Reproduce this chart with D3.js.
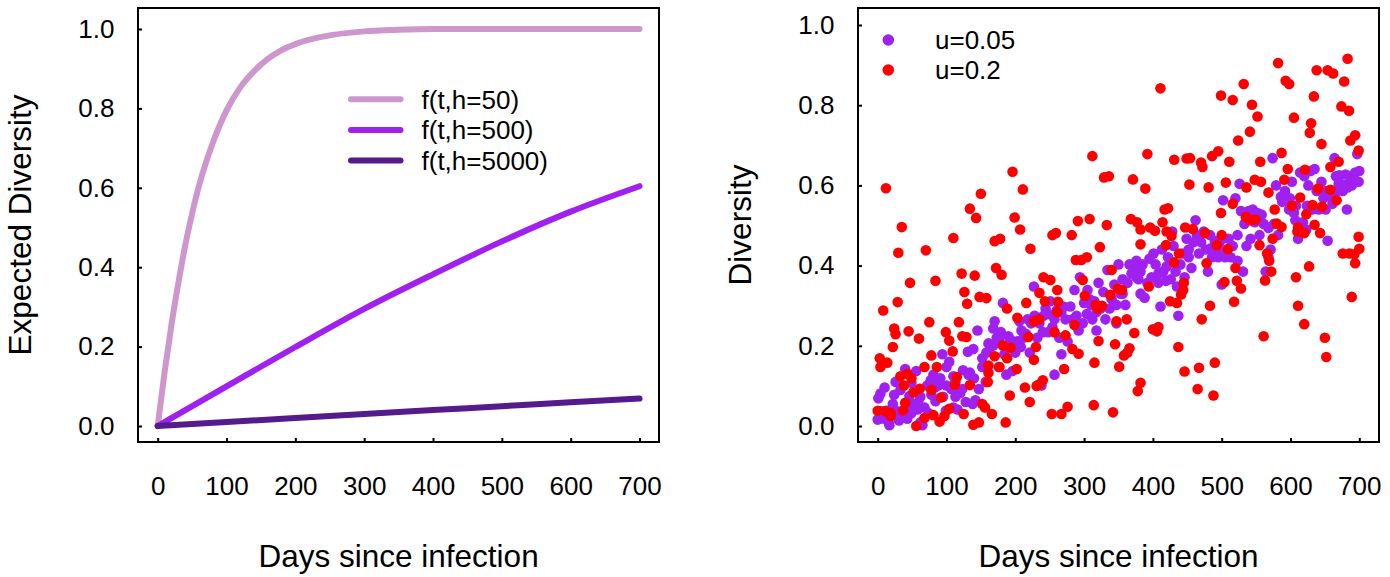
<!DOCTYPE html>
<html><head><meta charset="utf-8">
<script src="https://cdn.jsdelivr.net/npm/d3@7"></script>
<style>
html,body{margin:0;padding:0;background:#fff;}
svg{display:block;font-family:"Liberation Sans",Arial,sans-serif;}
</style></head>
<body>
<svg id="chart" width="1390" height="577"></svg>
<script>
// ---------- DATA ----------
const xTicks = [0,100,200,300,400,500,600,700];
const yTicks = [0,0.2,0.4,0.6,0.8,1.0];
const curveNames = ["f(t,h=50)","f(t,h=500)","f(t,h=5000)"];
const curveColors = ["#CD96CD","#A020F0","#551A8B"];
const h50Days = [0,10,20,30,40,50,60,70,80,90,100,120,140,160,180,200,225,250,300,350,400,500,600,700];
const h50Vals = [0,0.135,0.255,0.36,0.455,0.535,0.605,0.663,0.713,0.757,0.795,0.853,0.894,0.925,0.947,0.962,0.975,0.984,0.994,0.998,1,1,1,1];
const h500Days = [0,100,200,300,400,500,600,700];
const h500Vals = [0,0.10,0.199,0.295,0.382,0.465,0.54,0.604];
const h5000Days = [0,100,200,300,400,500,600,700];
const h5000Vals = [0,0.01,0.02,0.03,0.04,0.05,0.06,0.069];

const scatterNames = ["u=0.05","u=0.2"];
const scatterColors = ["#A020F0","#FF0000"];
const u005 = [[0,0.016],[4,0.018],[1,0.069],[4,0.081],[10,0.096],[11,0.018],[16,0.009],[17,0.002],[22,0.055],[24,0.078],[26,0.110],[31,0.014],[33,0.090],[35,0.032],[40,0.142],[43,0.018],[46,0.075],[49,0.108],[52,0.055],[56,0.137],[58,0.041],[62,0.073],[65,0.002],[68,0.046],[72,0.101],[74,0.032],[77,0.114],[81,0.128],[84,0.062],[88,0.101],[91,0.119],[94,0.179],[95,0.073],[99,0.038],[100,0.147],[104,0.160],[107,0.092],[110,0.124],[113,0.073],[116,0.041],[120,0.082],[124,0.139],[128,0.060],[131,0.185],[134,0.133],[139,0.192],[140,0.119],[142,0.064],[145,0.238],[147,0.092],[152,0.169],[152,0.147],[157,0.110],[161,0.206],[164,0.197],[168,0.243],[170,0.261],[173,0.220],[176,0.147],[179,0.234],[182,0.307],[184,0.179],[187,0.128],[190,0.224],[193,0.215],[196,0.137],[200,0.183],[203,0.211],[206,0.261],[209,0.238],[212,0.220],[218,0.266],[221,0.183],[223,0.256],[227,0.348],[228,0.275],[232,0.220],[235,0.256],[238,0.101],[241,0.275],[244,0.293],[248,0.234],[251,0.311],[254,0.247],[257,0.128],[260,0.288],[264,0.220],[267,0.179],[270,0.298],[273,0.266],[276,0.211],[280,0.298],[283,0.266],[286,0.339],[289,0.275],[294,0.371],[298,0.256],[300,0.307],[304,0.279],[305,0.339],[308,0.316],[312,0.266],[315,0.311],[318,0.238],[321,0.357],[324,0.293],[328,0.334],[331,0.266],[334,0.389],[337,0.293],[340,0.316],[344,0.353],[347,0.256],[350,0.403],[353,0.330],[356,0.366],[360,0.302],[363,0.357],[366,0.403],[369,0.380],[372,0.398],[376,0.412],[379,0.366],[382,0.330],[385,0.403],[388,0.320],[392,0.357],[395,0.417],[398,0.371],[401,0.430],[404,0.403],[408,0.357],[411,0.298],[413,0.440],[415,0.385],[419,0.362],[422,0.421],[426,0.366],[428,0.485],[430,0.449],[433,0.385],[435,0.348],[437,0.275],[440,0.403],[443,0.430],[446,0.371],[449,0.467],[452,0.421],[456,0.394],[459,0.458],[462,0.513],[464,0.476],[467,0.430],[470,0.458],[474,0.485],[477,0.440],[480,0.385],[483,0.476],[486,0.421],[490,0.462],[492,0.435],[495,0.421],[497,0.458],[500,0.353],[502,0.563],[505,0.421],[508,0.440],[510,0.467],[513,0.421],[516,0.449],[520,0.568],[523,0.412],[526,0.604],[528,0.536],[531,0.385],[533,0.504],[536,0.449],[539,0.536],[542,0.467],[545,0.540],[548,0.508],[552,0.517],[555,0.476],[558,0.527],[561,0.504],[564,0.385],[568,0.421],[571,0.440],[574,0.668],[576,0.504],[579,0.600],[582,0.476],[586,0.572],[588,0.559],[592,0.586],[595,0.563],[598,0.540],[602,0.609],[605,0.531],[607,0.513],[611,0.467],[614,0.632],[618,0.508],[620,0.623],[623,0.490],[626,0.600],[629,0.636],[632,0.540],[635,0.641],[638,0.586],[641,0.540],[645,0.609],[648,0.568],[651,0.540],[654,0.462],[658,0.572],[661,0.554],[664,0.668],[666,0.623],[668,0.586],[671,0.625],[673,0.604],[676,0.586],[680,0.627],[682,0.540],[684,0.604],[687,0.623],[689,0.600],[692,0.614],[694,0.632],[697,0.678],[699,0.609],[700,0.636],
[4,0.037],[13,0.038],[27,0.037],[43,0.055],[49,0.032],[59,0.060],[62,0.009],[78,0.078],[83,0.096],[100,0.101],[110,0.046],[113,0.110],[123,0.092],[132,0.128],[138,0.055],[158,0.183],[168,0.201],[177,0.220],[187,0.197],[198,0.206],[208,0.197],[216,0.229],[240,0.234],[248,0.279],[257,0.266],[267,0.284],[292,0.238],[310,0.302],[318,0.284],[347,0.302],[356,0.330],[376,0.371],[382,0.385],[408,0.380],[420,0.398],[452,0.440],[465,0.467],[485,0.444],[494,0.449],[504,0.430],[523,0.476],[542,0.517],[552,0.531],[568,0.494],[599,0.568],[608,0.549],[624,0.549],[651,0.586],[670,0.604],[683,0.595]];
const u02 = [[683,0.916],[582,0.905],[638,0.887],[654,0.887],[662,0.879],[411,0.842],[532,0.853],[593,0.861],[598,0.853],[678,0.859],[499,0.824],[516,0.813],[634,0.822],[544,0.801],[674,0.797],[685,0.786],[552,0.772],[605,0.769],[630,0.755],[628,0.731],[541,0.734],[524,0.712],[694,0.725],[687,0.712],[645,0.703],[699,0.687],[312,0.673],[392,0.678],[495,0.685],[486,0.673],[587,0.681],[431,0.664],[449,0.667],[454,0.668],[470,0.657],[472,0.646],[511,0.659],[556,0.659],[670,0.659],[658,0.646],[596,0.641],[621,0.639],[196,0.634],[329,0.620],[336,0.623],[371,0.615],[548,0.614],[557,0.609],[591,0.614],[506,0.607],[453,0.602],[536,0.595],[481,0.595],[389,0.592],[12,0.593],[211,0.590],[150,0.579],[568,0.582],[614,0.570],[640,0.592],[658,0.589],[667,0.563],[499,0.531],[516,0.554],[134,0.542],[417,0.540],[422,0.543],[577,0.540],[602,0.549],[632,0.551],[646,0.547],[143,0.519],[199,0.520],[291,0.511],[308,0.516],[368,0.516],[377,0.508],[414,0.508],[535,0.522],[541,0.513],[549,0.515],[623,0.528],[35,0.496],[333,0.501],[382,0.490],[396,0.495],[447,0.495],[458,0.491],[580,0.505],[587,0.496],[611,0.495],[635,0.502],[643,0.481],[610,0.485],[620,0.481],[476,0.481],[500,0.476],[420,0.485],[403,0.487],[110,0.469],[254,0.476],[259,0.481],[282,0.476],[427,0.474],[170,0.461],[178,0.467],[207,0.490],[699,0.472],[574,0.467],[555,0.451],[419,0.451],[382,0.453],[493,0.451],[509,0.441],[222,0.442],[323,0.446],[700,0.442],[676,0.430],[686,0.430],[693,0.428],[566,0.430],[30,0.432],[70,0.438],[438,0.430],[296,0.414],[304,0.421],[288,0.414],[569,0.412],[431,0.408],[694,0.406],[478,0.406],[572,0.385],[627,0.398],[520,0.394],[340,0.389],[122,0.380],[141,0.375],[180,0.377],[172,0.394],[608,0.371],[241,0.371],[251,0.364],[298,0.364],[47,0.357],[84,0.362],[445,0.357],[563,0.363],[504,0.359],[522,0.362],[528,0.343],[349,0.343],[355,0.339],[394,0.348],[444,0.339],[261,0.339],[235,0.332],[126,0.334],[338,0.327],[441,0.328],[301,0.325],[148,0.322],[158,0.319],[435,0.307],[518,0.310],[29,0.309],[130,0.305],[216,0.307],[243,0.311],[262,0.310],[317,0.302],[326,0.300],[483,0.300],[611,0.300],[689,0.322],[8,0.288],[188,0.293],[425,0.311],[320,0.293],[261,0.284],[203,0.270],[235,0.266],[471,0.266],[620,0.254],[347,0.261],[362,0.266],[118,0.259],[75,0.259],[286,0.252],[400,0.241],[408,0.247],[406,0.236],[24,0.243],[26,0.229],[45,0.236],[227,0.261],[373,0.232],[257,0.234],[273,0.226],[561,0.224],[650,0.220],[60,0.218],[99,0.234],[123,0.224],[129,0.222],[104,0.213],[219,0.222],[321,0.212],[22,0.197],[345,0.204],[437,0.197],[182,0.201],[193,0.195],[230,0.197],[366,0.194],[363,0.183],[358,0.176],[283,0.192],[292,0.180],[109,0.186],[78,0.176],[170,0.174],[188,0.169],[652,0.172],[3,0.169],[227,0.165],[315,0.158],[490,0.158],[4,0.147],[14,0.158],[86,0.147],[177,0.147],[161,0.151],[351,0.148],[271,0.142],[467,0.145],[202,0.142],[68,0.147],[33,0.124],[43,0.130],[49,0.119],[446,0.136],[161,0.133],[115,0.122],[134,0.102],[112,0.103],[235,0.104],[240,0.114],[231,0.100],[160,0.110],[38,0.101],[61,0.093],[52,0.084],[78,0.090],[214,0.096],[382,0.108],[378,0.087],[465,0.092],[92,0.071],[192,0.076],[488,0.076],[40,0.058],[152,0.055],[221,0.060],[156,0.046],[314,0.052],[276,0.048],[104,0.043],[37,0.039],[0,0.038],[11,0.037],[19,0.032],[19,0.025],[81,0.027],[125,0.030],[166,0.030],[253,0.030],[267,0.030],[342,0.034],[68,0.020],[97,0.025],[90,0.011],[139,0.003],[147,0.009],[186,0.009],[56,0.000]];

// ---------- LAYOUT ----------
const svg = d3.select("#chart");
const FONT_TICK = 26, FONT_TITLE = 31.5, FONT_LEG = 26;

function panel(opts){
  const g = svg.append("g");
  const x = d3.scaleLinear().domain([0,700]).range(opts.xr);
  const y = d3.scaleLinear().domain([0,1]).range(opts.yr);
  const ax = g.append("g").attr("transform",`translate(0,${opts.frame[3]})`)
    .call(d3.axisBottom(x).tickValues(xTicks).tickSize(-4).tickPadding(35).tickFormat(d3.format("d")));
  const ay = g.append("g").attr("transform",`translate(${opts.frame[0]},0)`)
    .call(d3.axisLeft(y).tickValues(yTicks).tickSize(-4).tickPadding(23.5).tickFormat(d3.format(".1f")));
  [ax,ay].forEach(a=>{
    a.select(".domain").remove();
    a.selectAll(".tick line").attr("stroke","#000").attr("stroke-width",2);
    a.selectAll(".tick text").attr("fill","#000").style("font-size",FONT_TICK+"px")
      .style("font-family","'Liberation Sans',Arial,sans-serif");
  });
  g.append("rect").attr("x",opts.frame[0]).attr("y",opts.frame[1])
    .attr("width",opts.frame[2]-opts.frame[0]).attr("height",opts.frame[3]-opts.frame[1])
    .attr("fill","none").attr("stroke","#000").attr("stroke-width",2);
  g.append("text").attr("x",(opts.xr[0]+opts.xr[1])/2).attr("y",567)
    .attr("text-anchor","middle").style("font-size",FONT_TITLE+"px").text("Days since infection");
  g.append("text").attr("transform",`translate(${opts.ytx},${(opts.frame[1]+opts.frame[3])/2}) rotate(-90)`)
    .attr("text-anchor","middle").style("font-size",FONT_TITLE+"px").text(opts.ytitle);
  return {g,x,y};
}

// ---------- LEFT PANEL ----------
const L = panel({xr:[157.7,639.5], yr:[426,29], frame:[138,8,659,442], ytx:30.5, ytitle:"Expected Diversity"});
const curves = [
  h50Days.map((d,i)=>[d,h50Vals[i]]),
  h500Days.map((d,i)=>[d,h500Vals[i]]),
  h5000Days.map((d,i)=>[d,h5000Vals[i]])
];
const line = d3.line().x(d=>L.x(d[0])).y(d=>L.y(d[1])).curve(d3.curveMonotoneX);
curves.forEach((c,i)=>{
  L.g.append("path").attr("d",line(c)).attr("fill","none").attr("stroke",curveColors[i])
    .attr("stroke-width",6).attr("stroke-linecap","round").attr("stroke-linejoin","round");
});
const legY = [99.3,130,160.5];
curveNames.forEach((n,i)=>{
  L.g.append("line").attr("x1",351).attr("x2",400.5).attr("y1",legY[i]).attr("y2",legY[i])
    .attr("stroke",curveColors[i]).attr("stroke-width",6).attr("stroke-linecap","round");
  L.g.append("text").attr("x",421.5).attr("y",legY[i]+9.3).style("font-size",FONT_LEG+"px").text(n);
});

// ---------- RIGHT PANEL ----------
const R = panel({xr:[877.7,1359.3], yr:[426,25], frame:[858,8,1379,442], ytx:751, ytitle:"Diversity"});
[u005,u02].forEach((s,i)=>{
  R.g.append("g").selectAll("circle").data(s).join("circle")
    .attr("cx",d=>R.x(d[0])).attr("cy",d=>R.y(d[1])).attr("r",5.3).attr("fill",scatterColors[i]);
});
const legY2 = [40,70];
scatterNames.forEach((n,i)=>{
  R.g.append("circle").attr("cx",888.3).attr("cy",legY2[i]).attr("r",5.8).attr("fill",scatterColors[i]);
  R.g.append("text").attr("x",935).attr("y",legY2[i]+9.3).style("font-size",FONT_LEG+"px").text(n);
});
</script>
</body></html>
